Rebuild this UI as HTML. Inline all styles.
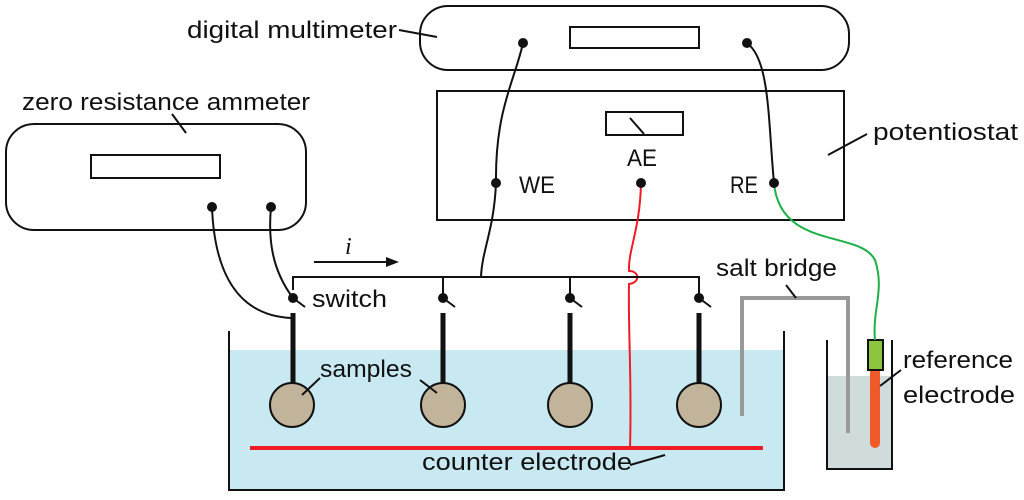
<!DOCTYPE html>
<html><head><meta charset="utf-8"><style>
html,body{margin:0;padding:0;background:#fff;}
svg{display:block;font-family:"Liberation Sans",sans-serif;}
text{font-size:24px;fill:#111;}
</style></head><body>
<svg width="1024" height="500" viewBox="0 0 1024 500" xmlns="http://www.w3.org/2000/svg">
<rect x="229" y="350" width="555" height="140" fill="#c8e9f1"/>
<path d="M229 331 V490 H784 V331" fill="none" stroke="#111" stroke-width="2"/>
<rect x="827" y="376" width="65" height="93" fill="#d0dbdb"/>
<path d="M827 340 V469 H892 V340" fill="none" stroke="#111" stroke-width="2"/>
<path d="M742 416 V298 H848 V433" fill="none" stroke="#999" stroke-width="4"/>
<line x1="786" y1="285" x2="796" y2="298" stroke="#111" stroke-width="2"/>
<line x1="875" y1="372" x2="875" y2="443" stroke="#f05a28" stroke-width="10" stroke-linecap="round"/>
<rect x="868" y="340" width="15" height="30" fill="#8cc63f" stroke="#111" stroke-width="2"/>
<line x1="880" y1="386" x2="901" y2="370" stroke="#111" stroke-width="2"/>
<line x1="250" y1="448" x2="763" y2="448" stroke="#ee1c25" stroke-width="4"/>
<line x1="630" y1="465" x2="665" y2="455" stroke="#111" stroke-width="2"/>
<rect x="420" y="6" width="429" height="64" rx="28" fill="#fff" stroke="#111" stroke-width="2"/>
<rect x="570" y="27" width="129" height="21" fill="#fff" stroke="#111" stroke-width="2"/>
<line x1="399" y1="30" x2="437" y2="37" stroke="#111" stroke-width="2"/>
<rect x="437" y="91" width="407" height="129" fill="#fff" stroke="#111" stroke-width="2"/>
<rect x="606" y="112" width="77" height="23" fill="#fff" stroke="#111" stroke-width="2"/>
<line x1="630" y1="118" x2="644" y2="134" stroke="#111" stroke-width="2"/>
<line x1="828" y1="155" x2="867" y2="134" stroke="#111" stroke-width="2"/>
<rect x="6" y="124" width="300" height="106" rx="28" fill="#fff" stroke="#111" stroke-width="2"/>
<rect x="91" y="155" width="129" height="23" fill="#fff" stroke="#111" stroke-width="2"/>
<line x1="172" y1="114" x2="186" y2="133" stroke="#111" stroke-width="2"/>
<path d="M523 43 C515 80 495 110 496 183 C494 230 482 250 481 277" fill="none" stroke="#111" stroke-width="2"/>
<path d="M747 43 C770 60 768 120 774 183" fill="none" stroke="#111" stroke-width="2"/>
<path d="M774 183 C780 250 860 230 875 260 C885 290 872 310 875 340" fill="none" stroke="#1db04b" stroke-width="2"/>
<path d="M641 183 C640 230 628 250 629 271 C640 271 640 283 629 284 C628 330 632 380 630 448" fill="none" stroke="#ee1c25" stroke-width="2"/>
<path d="M212 207 C214 260 230 315 291 318" fill="none" stroke="#111" stroke-width="2"/>
<path d="M271 207 C268 240 272 270 293 298" fill="none" stroke="#111" stroke-width="2"/>
<path d="M293 290 V277 H699 V298 M443 277 V298 M570 277 V298" fill="none" stroke="#111" stroke-width="2"/>
<line x1="314" y1="262" x2="390" y2="262" stroke="#111" stroke-width="2"/>
<path d="M399 262 L386 257 L386 267 Z" fill="#111"/>
<text x="345" y="254" font-style="italic" font-family="Liberation Serif, serif" font-size="26">i</text>
<g stroke="#111">
<line x1="293" y1="298" x2="305" y2="307" stroke-width="2"/>
<line x1="443" y1="298" x2="455" y2="307" stroke-width="2"/>
<line x1="570" y1="298" x2="582" y2="307" stroke-width="2"/>
<line x1="699" y1="298" x2="711" y2="307" stroke-width="2"/>
<line x1="293" y1="313" x2="293" y2="385" stroke-width="5"/>
<line x1="443" y1="313" x2="443" y2="385" stroke-width="5"/>
<line x1="570" y1="313" x2="570" y2="385" stroke-width="5"/>
<line x1="699" y1="313" x2="699" y2="385" stroke-width="5"/>
</g>
<g fill="#c2b49a" stroke="#111" stroke-width="2">
<circle cx="292" cy="405" r="22"/><circle cx="443" cy="405" r="22"/>
<circle cx="570" cy="405" r="22"/><circle cx="699" cy="405" r="22"/>
</g>
<line x1="320" y1="378" x2="302" y2="395" stroke="#111" stroke-width="2"/>
<line x1="420" y1="380" x2="437" y2="393" stroke="#111" stroke-width="2"/>
<g fill="#111">
<circle cx="523" cy="43" r="5"/><circle cx="747" cy="43" r="5"/>
<circle cx="496" cy="183" r="5"/><circle cx="641" cy="183" r="5"/><circle cx="774" cy="183" r="5"/>
<circle cx="212" cy="207" r="5"/><circle cx="271" cy="207" r="5"/>
<circle cx="293" cy="298" r="5"/><circle cx="443" cy="298" r="5"/><circle cx="570" cy="298" r="5"/><circle cx="699" cy="298" r="5"/>
</g>
<text x="187" y="38" textLength="210" lengthAdjust="spacingAndGlyphs">digital multimeter</text>
<text x="22" y="110" textLength="288" lengthAdjust="spacingAndGlyphs">zero resistance ammeter</text>
<text x="873" y="140" textLength="145" lengthAdjust="spacingAndGlyphs">potentiostat</text>
<text x="519" y="193" textLength="36" lengthAdjust="spacingAndGlyphs">WE</text>
<text x="627" y="166" textLength="30" lengthAdjust="spacingAndGlyphs">AE</text>
<text x="730" y="193" textLength="28" lengthAdjust="spacingAndGlyphs">RE</text>
<text x="312" y="307" textLength="75" lengthAdjust="spacingAndGlyphs">switch</text>
<text x="716" y="276" textLength="121" lengthAdjust="spacingAndGlyphs">salt bridge</text>
<text x="320" y="377" textLength="92" lengthAdjust="spacingAndGlyphs">samples</text>
<text x="422" y="470" textLength="210" lengthAdjust="spacingAndGlyphs">counter electrode</text>
<text x="903" y="368" textLength="110" lengthAdjust="spacingAndGlyphs">reference</text>
<text x="903" y="403" textLength="112" lengthAdjust="spacingAndGlyphs">electrode</text>
</svg>
</body></html>
